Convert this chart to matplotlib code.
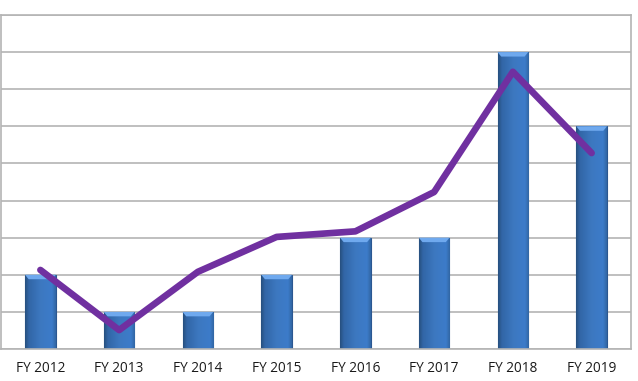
import numpy as np
import matplotlib
matplotlib.use("Agg")
import matplotlib.pyplot as plt
from matplotlib.colors import LinearSegmentedColormap

categories = ["FY 2012", "FY 2013", "FY 2014", "FY 2015", "FY 2016", "FY 2017", "FY 2018", "FY 2019"]
bar_values = [2, 1, 1, 2, 3, 3, 8, 6]
line_values = [2.13, 0.51, 2.08, 3.02, 3.17, 4.23, 7.47, 5.28]

W, H = 638, 381
fig = plt.figure(figsize=(W / 100, H / 100), dpi=100)
ax = fig.add_axes([1 / W, (H - 349) / H, 630 / W, 334 / H])

x = np.arange(len(categories))
width = 0.39
bars = ax.bar(x, bar_values, width=width, color="#3b78c8", edgecolor="#2b5791",
              linewidth=0.8, zorder=2)

# mostly flat fill with darker edges and a slight top-to-bottom darkening
cmap = LinearSegmentedColormap.from_list(
    "b", [(0.0, "#30649f"), (0.12, "#3c7bc9"), (0.5, "#4283d2"), (0.88, "#3c7bc9"), (1.0, "#30649f")])
gx = np.linspace(0, 1, 64)
for b in bars:
    x0 = b.get_x()
    w = b.get_width()
    h = b.get_height()
    grad = np.tile(gx, (64, 1))
    img = cmap(grad)
    vy = np.linspace(0.80, 1.03, 64)[:, None]
    img[..., :3] = np.clip(img[..., :3] * vy, 0, 1)
    im = ax.imshow(img, extent=[x0, x0 + w, 0, h], origin="lower", aspect="auto",
                   zorder=2.1, interpolation="bilinear")
    im.set_clip_path(b)
    bev = 0.12
    ax.fill([x0, x0 + w, x0 + w * 0.88, x0 + w * 0.12], [h, h, h - bev, h - bev],
            color="#6fa9ee", zorder=2.2, lw=0)

ax.plot(x, line_values, color="#7030a0", linewidth=4.8, solid_capstyle="round",
        solid_joinstyle="round", zorder=3)

ax.set_xlim(-0.5, len(categories) - 0.5)
ax.set_ylim(0, 9)
ax.set_yticks(np.arange(0, 10, 1))
ax.set_yticklabels([])
ax.tick_params(axis="y", length=0)
ax.tick_params(axis="x", length=0, pad=9)
ax.set_xticks(x)
ax.set_xticklabels(categories, fontsize=9.8, family=["Open Sans", "DejaVu Sans"], color="#1a1a1a")
ax.grid(axis="y", color="#b4b4b4", linewidth=1.2, zorder=0)
ax.set_axisbelow(True)
for s in ax.spines.values():
    s.set_color("#b4b4b4")
    s.set_linewidth(1.2)

fig.savefig("out.png", dpi=100)
